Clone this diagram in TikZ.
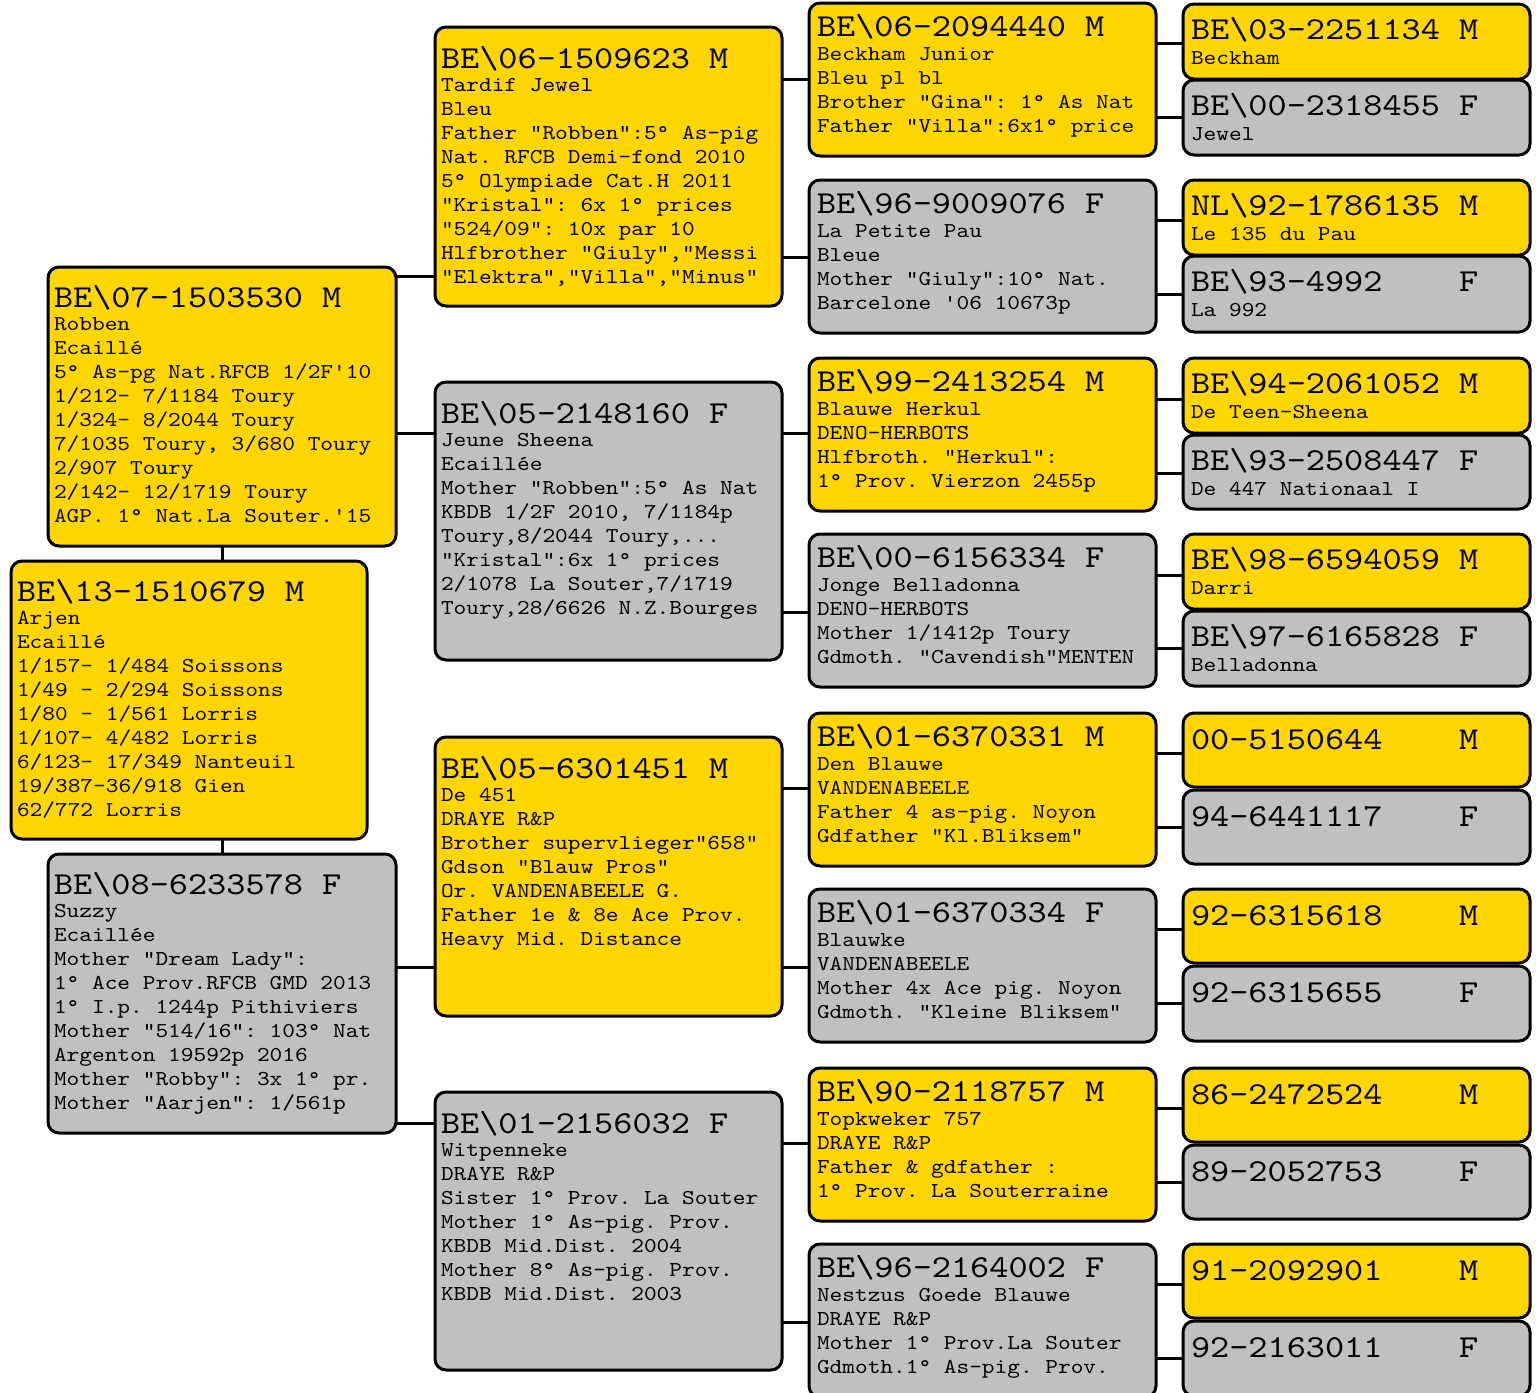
\documentclass[tikz,border=0pt]{standalone}
\usepackage{fontspec}
\setmonofont[FakeStretch=1.14]{lmmono10-regular.otf}
\newdimen\pxu \pxu=0.5pt
\definecolor{yel}{RGB}{255,214,0}
\definecolor{gry}{RGB}{192,192,192}
\tikzset{
  card/.style={draw=black,line width=1.5pt,rounded corners=5.5pt,inner sep=0pt,outer sep=0pt,anchor=north west},
  conn/.style={draw=black,line width=1.5pt}
}
\def\xoff{6}\def\hgap{-0.5pt}
% name, fill, x, y, w, h, header baseline offset, header, body
\newcommand\card[9]{%
  \node[card,fill=#2,minimum width=#5*0.5pt,minimum height=#6*0.5pt] (#1) at (#3,#4)
  {\parbox[c][#6\pxu][t]{#5\pxu}{\ttfamily\frenchspacing\raggedright\leftskip=\xoff\pxu
   \fontsize{10.6}{12}\selectfont
   \rule{0pt}{#7\pxu}{\fontsize{16}{12}\selectfont #8}\\[\hgap]#9\par}};}
\begin{document}
\begin{tikzpicture}[x=0.5pt,y=-0.5pt]
\useasboundingbox (0,0) rectangle (1538,1393);
\fill[white] (0,0) rectangle (1538,1393);
\clip (0,0) rectangle (1538,1393);

% ---------- column 1 ----------
\def\xoff{6}\def\hgap{-0.5pt}
\card{F}{yel}{48}{267}{348}{279}{40}{BE\textbackslash 07-1503530 M}{Robben\\Ecaillé\\5° As-pg Nat.RFCB 1/2F'10\\1/212- 7/1184 Toury\\1/324- 8/2044 Toury\\7/1035 Toury, 3/680 Toury\\2/907 Toury\\2/142- 12/1719 Toury\\AGP. 1° Nat.La Souter.'15}
\card{S}{yel}{11}{561}{356}{278}{40}{BE\textbackslash 13-1510679 M}{Arjen\\Ecaillé\\1/157- 1/484 Soissons\\1/49 - 2/294 Soissons\\1/80 - 1/561 Lorris\\1/107- 4/482 Lorris\\6/123- 17/349 Nanteuil\\19/387-36/918 Gien\\62/772 Lorris}
\card{M}{gry}{48}{854}{348}{279}{40}{BE\textbackslash 08-6233578 F}{Suzzy\\Ecaillée\\Mother "Dream Lady":\\1° Ace Prov.RFCB GMD 2013\\1° I.p. 1244p Pithiviers\\Mother "514/16": 103° Nat\\Argenton 19592p 2016\\Mother "Robby": 3x 1° pr.\\Mother "Aarjen": 1/561p}

% ---------- column 2 ----------
\card{P1}{yel}{435}{27}{347}{279}{41}{BE\textbackslash 06-1509623 M}{Tardif Jewel\\Bleu\\Father "Robben":5° As-pig\\Nat. RFCB Demi-fond 2010\\5° Olympiade Cat.H 2011\\"Kristal": 6x 1° prices\\"524/09": 10x par 10\\Hlfbrother "Giuly","Messi\\"Elektra","Villa","Minus"}
\card{P2}{gry}{435}{382}{347}{278}{41}{BE\textbackslash 05-2148160 F}{Jeune Sheena\\Ecaillée\\Mother "Robben":5° As Nat\\KBDB 1/2F 2010, 7/1184p\\Toury,8/2044 Toury,...\\"Kristal":6x 1° prices\\2/1078 La Souter,7/1719\\Toury,28/6626 N.Z.Bourges}
\card{P3}{yel}{435}{737}{347}{279}{41}{BE\textbackslash 05-6301451 M}{De 451\\DRAYE R\&P\\Brother supervlieger"658"\\Gdson "Blauw Pros"\\Or. VANDENABEELE G.\\Father 1e \& 8e Ace Prov.\\Heavy Mid. Distance}
\card{P4}{gry}{435}{1092}{347}{278}{41}{BE\textbackslash 01-2156032 F}{Witpenneke\\DRAYE R\&P\\Sister 1° Prov. La Souter\\Mother 1° As-pig. Prov.\\KBDB Mid.Dist. 2004\\Mother 8° As-pig. Prov.\\KBDB Mid.Dist. 2003}

% ---------- column 3 ----------
\def\xoff{8}\def\hgap{0pt}
\card{G1}{yel}{809}{3}{347}{153}{33}{BE\textbackslash 06-2094440 M}{Beckham Junior\\Bleu pl bl\\Brother "Gina": 1° As Nat\\Father "Villa":6x1° price}
\card{G2}{gry}{809}{180}{347}{153}{33}{BE\textbackslash 96-9009076 F}{La Petite Pau\\Bleue\\Mother "Giuly":10° Nat.\\Barcelone '06 10673p}
\card{G3}{yel}{809}{358}{347}{153}{33}{BE\textbackslash 99-2413254 M}{Blauwe Herkul\\DENO-HERBOTS\\Hlfbroth. "Herkul":\\1° Prov. Vierzon 2455p}
\card{G4}{gry}{809}{534}{347}{153}{33}{BE\textbackslash 00-6156334 F}{Jonge Belladonna\\DENO-HERBOTS\\Mother 1/1412p Toury\\Gdmoth. "Cavendish"MENTEN}
\card{G5}{yel}{809}{713}{347}{153}{33}{BE\textbackslash 01-6370331 M}{Den Blauwe\\VANDENABEELE\\Father 4 as-pig. Noyon\\Gdfather "Kl.Bliksem"}
\card{G6}{gry}{809}{889}{347}{153}{33}{BE\textbackslash 01-6370334 F}{Blauwke\\VANDENABEELE\\Mother 4x Ace pig. Noyon\\Gdmoth. "Kleine Bliksem"}
\card{G7}{yel}{809}{1068}{347}{153}{33}{BE\textbackslash 90-2118757 M}{Topkweker 757\\DRAYE R\&P\\Father \& gdfather :\\1° Prov. La Souterraine}
\card{G8}{gry}{809}{1244}{347}{153}{33}{BE\textbackslash 96-2164002 F}{Nestzus Goede Blauwe\\DRAYE R\&P\\Mother 1° Prov.La Souter\\Gdmoth.1° As-pig. Prov.}

% ---------- column 4 ----------
\def\xoff{8}\def\hgap{0.5pt}
\card{H1}{yel}{1183}{4}{347}{75}{35}{BE\textbackslash 03-2251134 M}{Beckham}
\card{H2}{gry}{1183}{80}{347}{75}{35}{BE\textbackslash 00-2318455 F}{Jewel}
\card{H3}{yel}{1183}{180}{347}{75}{35}{NL\textbackslash 92-1786135 M}{Le 135 du Pau}
\card{H4}{gry}{1183}{256}{347}{76}{35}{BE\textbackslash 93-4992\ \ \ \ F}{La 992}
\card{H5}{yel}{1183}{358}{347}{75}{35}{BE\textbackslash 94-2061052 M}{De Teen-Sheena}
\card{H6}{gry}{1183}{435}{347}{74}{35}{BE\textbackslash 93-2508447 F}{De 447 Nationaal I}
\card{H7}{yel}{1183}{534}{347}{75}{35}{BE\textbackslash 98-6594059 M}{Darri}
\card{H8}{gry}{1183}{611}{347}{75}{35}{BE\textbackslash 97-6165828 F}{Belladonna}
\card{H9}{yel}{1183}{713}{347}{74}{36}{00-5150644\ \ \ \ M}{}
\card{H10}{gry}{1183}{790}{347}{74}{36}{94-6441117\ \ \ \ F}{}
\card{H11}{yel}{1183}{889}{347}{74}{36}{92-6315618\ \ \ \ M}{}
\card{H12}{gry}{1183}{966}{347}{75}{36}{92-6315655\ \ \ \ F}{}
\card{H13}{yel}{1183}{1068}{347}{74}{36}{86-2472524\ \ \ \ M}{}
\card{H14}{gry}{1183}{1145}{347}{74}{36}{89-2052753\ \ \ \ F}{}
\card{H15}{yel}{1183}{1244}{347}{74}{36}{91-2092901\ \ \ \ M}{}
\card{H16}{gry}{1183}{1321}{347}{75}{36}{92-2163011\ \ \ \ F}{}

% ---------- connectors ----------
\draw[conn] (222,0 |- F.south) -- (222,0 |- S.north);
\draw[conn] (222,0 |- S.south) -- (222,0 |- M.north);

\draw[conn] (F.east |- 0,276) -- (P1.west |- 0,276);
\draw[conn] (F.east |- 0,433) -- (P2.west |- 0,433);
\draw[conn] (M.east |- 0,967) -- (P3.west |- 0,967);
\draw[conn] (M.east |- 0,1123) -- (P4.west |- 0,1123);

\draw[conn] (P1.east |- 0,79) -- (G1.west |- 0,79);
\draw[conn] (P1.east |- 0,257) -- (G2.west |- 0,257);
\draw[conn] (P2.east |- 0,433) -- (G3.west |- 0,433);
\draw[conn] (P2.east |- 0,612) -- (G4.west |- 0,612);
\draw[conn] (P3.east |- 0,788) -- (G5.west |- 0,788);
\draw[conn] (P3.east |- 0,967) -- (G6.west |- 0,967);
\draw[conn] (P4.east |- 0,1143) -- (G7.west |- 0,1143);
\draw[conn] (P4.east |- 0,1322) -- (G8.west |- 0,1322);

\draw[conn] (G1.east |- 0,43) -- (H1.west |- 0,43);
\draw[conn] (G1.east |- 0,117) -- (H2.west |- 0,117);
\draw[conn] (G2.east |- 0,220) -- (H3.west |- 0,220);
\draw[conn] (G2.east |- 0,294) -- (H4.west |- 0,294);
\draw[conn] (G3.east |- 0,399) -- (H5.west |- 0,399);
\draw[conn] (G3.east |- 0,473) -- (H6.west |- 0,473);
\draw[conn] (G4.east |- 0,575) -- (H7.west |- 0,575);
\draw[conn] (G4.east |- 0,648) -- (H8.west |- 0,648);
\draw[conn] (G5.east |- 0,753) -- (H9.west |- 0,753);
\draw[conn] (G5.east |- 0,827) -- (H10.west |- 0,827);
\draw[conn] (G6.east |- 0,929) -- (H11.west |- 0,929);
\draw[conn] (G6.east |- 0,1003) -- (H12.west |- 0,1003);
\draw[conn] (G7.east |- 0,1108) -- (H13.west |- 0,1108);
\draw[conn] (G7.east |- 0,1182) -- (H14.west |- 0,1182);
\draw[conn] (G8.east |- 0,1284) -- (H15.west |- 0,1284);
\draw[conn] (G8.east |- 0,1358) -- (H16.west |- 0,1358);
\end{tikzpicture}
\end{document}
